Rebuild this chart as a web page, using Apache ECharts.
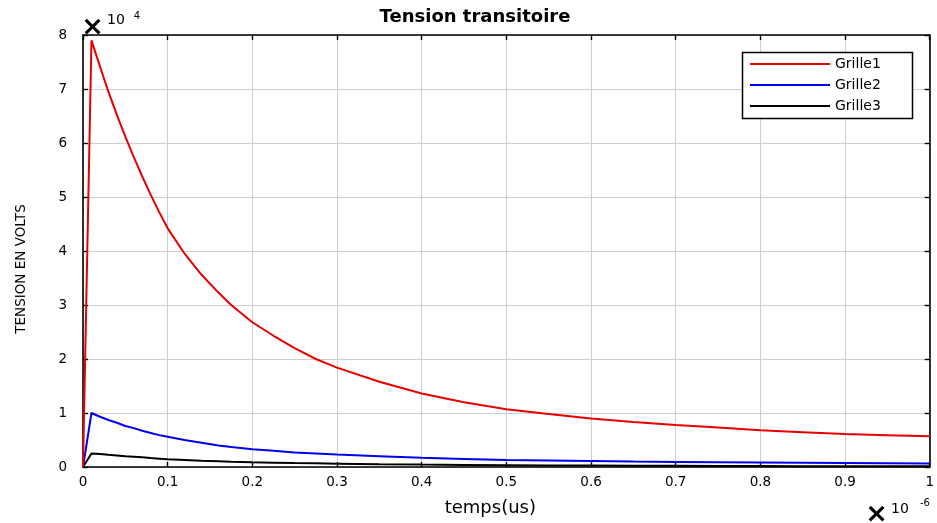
<!DOCTYPE html>
<html>
<head>
<meta charset="utf-8">
<script src="https://cdn.jsdelivr.net/npm/echarts@6/dist/echarts.min.js"></script>
<style>html,body{margin:0;padding:0;background:#fff}#c{width:937px;height:523px}</style>
</head>
<body>
<div id="c"></div>
<script>
// Time in units of 1e-6 (axis shows "x 10^-6"), voltage in units of 1e4 (axis shows "x 10^4")
const timeE6 = [0, 0.01, 0.02, 0.03, 0.04, 0.05, 0.06, 0.07, 0.08, 0.09, 0.1, 0.12, 0.14, 0.16, 0.175, 0.2, 0.225, 0.25, 0.275, 0.3, 0.35, 0.4, 0.45, 0.5, 0.55, 0.6, 0.65, 0.7, 0.75, 0.8, 0.85, 0.9, 0.95, 1.0];
const grille1 = [0, 7.9, 7.42, 6.95, 6.52, 6.12, 5.74, 5.38, 5.04, 4.72, 4.42, 3.95, 3.56, 3.23, 3.0, 2.68, 2.43, 2.2, 2.0, 1.84, 1.58, 1.36, 1.2, 1.07, 0.98, 0.9, 0.835, 0.78, 0.73, 0.68, 0.645, 0.61, 0.59, 0.57];
const grille2 = [0, 1.0, 0.93, 0.87, 0.82, 0.76, 0.72, 0.67, 0.63, 0.59, 0.56, 0.5, 0.45, 0.4, 0.37, 0.33, 0.3, 0.27, 0.25, 0.23, 0.2, 0.17, 0.15, 0.13, 0.12, 0.11, 0.1, 0.093, 0.088, 0.083, 0.079, 0.075, 0.07, 0.065];
const grille3 = [0, 0.25, 0.24, 0.225, 0.215, 0.2, 0.19, 0.18, 0.165, 0.155, 0.145, 0.13, 0.115, 0.105, 0.097, 0.087, 0.08, 0.073, 0.068, 0.062, 0.052, 0.044, 0.038, 0.033, 0.03, 0.027, 0.024, 0.022, 0.02, 0.018, 0.016, 0.015, 0.014, 0.013];
const seriesNames = ['Grille1', 'Grille2', 'Grille3'];
const seriesColors = ['#e60000', '#0000ee', '#000000'];
const xTicks = [0, 0.1, 0.2, 0.3, 0.4, 0.5, 0.6, 0.7, 0.8, 0.9, 1];
const yTicks = [0, 1, 2, 3, 4, 5, 6, 7, 8];

const chart = echarts.init(document.getElementById('c'));
const F = 'DejaVu Sans';
const frame = {show: true, onZero: false, lineStyle: {color: '#000', width: 1.6}};
const tick = {show: true, inside: true, length: 5, lineStyle: {color: '#000', width: 1.4}};
const split = {show: true, lineStyle: {color: '#cfcfcf', width: 1}};
const mk = arr => timeE6.map((t, i) => [t, arr[i]]);
const values = [grille1, grille2, grille3];

chart.setOption({
  animation: false,
  backgroundColor: '#fff',
  title: {
    text: 'Tension transitoire',
    left: 475, top: 8, padding: 0, textAlign: 'center',
    textStyle: {fontFamily: F, fontWeight: 'bold', fontSize: 18, color: '#000'}
  },
  grid: {left: 83, top: 35, width: 851, height: 432, containLabel: false},
  xAxis: [{
    type: 'value', min: xTicks[0], max: xTicks[xTicks.length - 1], interval: 0.1,
    axisLine: frame, axisTick: tick, splitLine: split,
    axisLabel: {color: '#000', fontFamily: F, fontSize: 13.5, margin: 8},
    name: 'temps(us)', nameLocation: 'middle', nameGap: 32,
    nameTextStyle: {color: '#000', fontFamily: F, fontSize: 18, padding: [0, 32, 0, 0]}
  }, {
    type: 'value', position: 'top', min: 0, max: 1, interval: 0.1,
    axisLine: frame, axisTick: tick, splitLine: {show: false}, axisLabel: {show: false}
  }],
  yAxis: [{
    type: 'value', min: yTicks[0], max: yTicks[yTicks.length - 1], interval: 1,
    axisLine: frame, axisTick: tick, splitLine: split,
    axisLabel: {color: '#000', fontFamily: F, fontSize: 13.5, margin: 16, padding: [0, 0, 6, 0]},
    name: 'TENSION EN VOLTS', nameLocation: 'middle', nameGap: 55, nameRotate: 90,
    nameTextStyle: {color: '#000', fontFamily: F, fontSize: 13.5, padding: [0, 36, 0, 0]}
  }, {
    type: 'value', position: 'right', min: 0, max: 8, interval: 1,
    axisLine: frame, axisTick: tick, splitLine: {show: false}, axisLabel: {show: false}
  }],
  legend: {
    orient: 'vertical', left: 750, top: 56, padding: 0, itemGap: 5,
    icon: 'rect', itemWidth: 80, itemHeight: 2, z: 6,
    textStyle: {color: '#000', fontFamily: F, fontSize: 14, lineHeight: 16},
    data: seriesNames
  },
  graphic: [
    {type: 'rect', z: 5, shape: {x: 742.5, y: 52.5, width: 170, height: 66},
     style: {fill: '#fff', stroke: '#000', lineWidth: 1.5}},
    {type: 'text', z: 5, x: 92.5, y: 27.5, style: {text: '×', font: 'bold 27px "DejaVu Sans"', fill: '#000', align: 'center', verticalAlign: 'middle'}},
    {type: 'text', z: 5, x: 116, y: 20, style: {text: '10', font: '14px "DejaVu Sans"', fill: '#000', align: 'center', verticalAlign: 'middle'}},
    {type: 'text', z: 5, x: 137, y: 16, style: {text: '4', font: '10px "DejaVu Sans"', fill: '#000', align: 'center', verticalAlign: 'middle'}},
    {type: 'text', z: 5, x: 876.5, y: 515, style: {text: '×', font: 'bold 27px "DejaVu Sans"', fill: '#000', align: 'center', verticalAlign: 'middle'}},
    {type: 'text', z: 5, x: 900, y: 509.5, style: {text: '10', font: '14px "DejaVu Sans"', fill: '#000', align: 'center', verticalAlign: 'middle'}},
    {type: 'text', z: 5, x: 925, y: 503.5, style: {text: '-6', font: '10px "DejaVu Sans"', fill: '#000', align: 'center', verticalAlign: 'middle'}}
  ],
  series: seriesNames.map((n, k) => ({
    name: n, type: 'line', xAxisIndex: 0, yAxisIndex: 0,
    data: mk(values[k]), showSymbol: false, symbol: 'none', smooth: false,
    color: seriesColors[k],
    lineStyle: {color: seriesColors[k], width: 2}, z: 3 - k
  }))
});
</script>
</body>
</html>
